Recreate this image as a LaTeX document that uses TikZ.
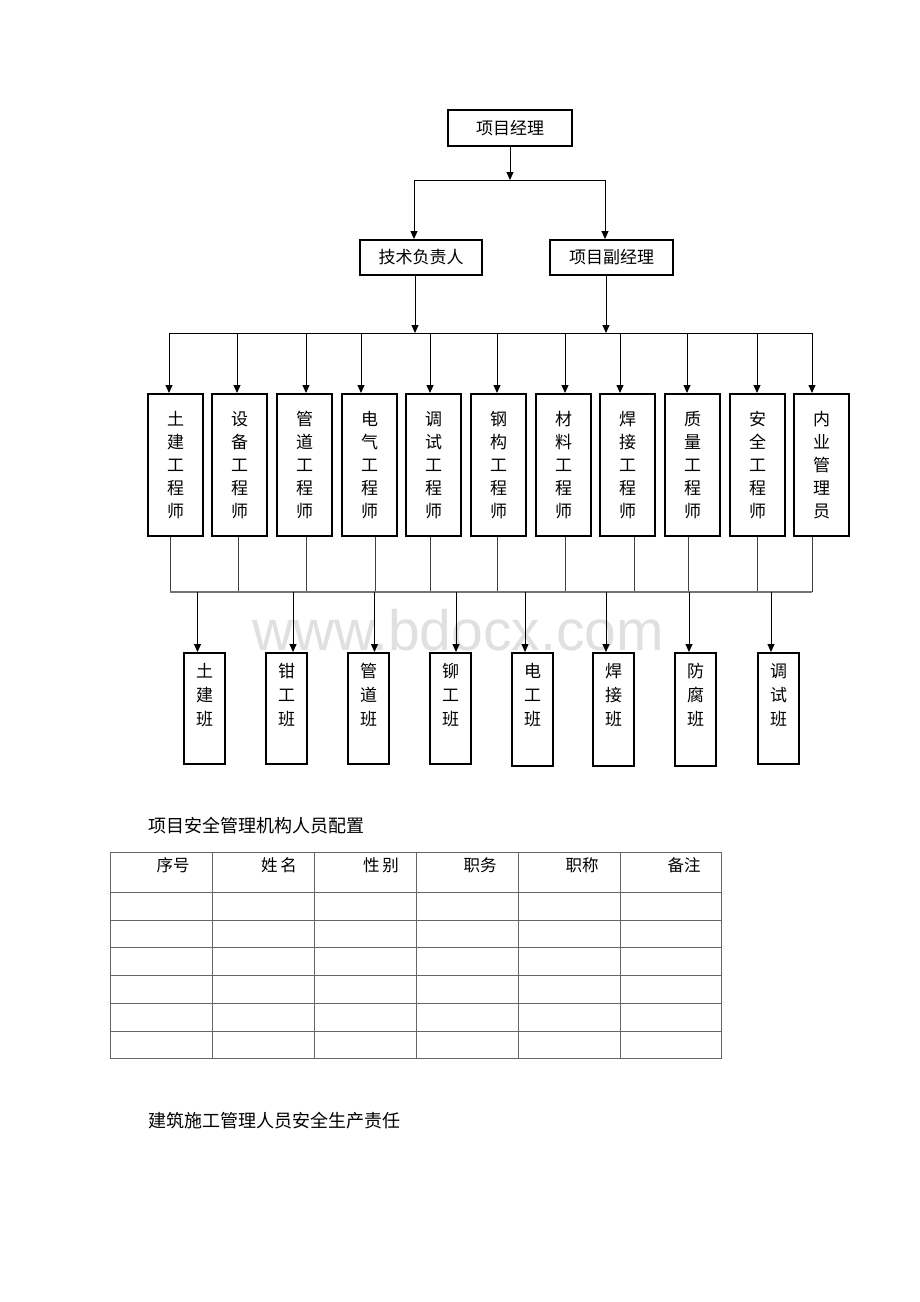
\documentclass[tikz,border=0pt]{standalone}
\usepackage{fontspec}
\setmainfont{Liberation Serif}
\newfontfamily\cjk{Noto Sans CJK SC}
\newfontfamily\wmfont{Liberation Sans}
\usetikzlibrary{arrows.meta}
\tikzset{
  arr/.style={-{Triangle[length=8pt,width=7pt]}, line width=1pt, black},
  ln/.style={line width=1pt, black},
  dropln/.style={line width=0.8pt, black!75},
  topbox/.style={draw, line width=2pt, inner sep=0pt, font=\cjk\fontsize{17}{20}\selectfont},
  engbox/.style={draw, line width=2.4pt, inner sep=0pt, minimum width=55pt, minimum height=142pt, anchor=north west, align=center, font=\cjk\fontsize{17}{23}\selectfont},
  teambox/.style={draw, line width=2.4pt, inner sep=0pt, minimum width=41pt, minimum height=111pt, anchor=north west},
  teamtxt/.style={inner sep=0pt, align=center, font=\cjk\fontsize{17}{24}\selectfont},
  tbl/.style={line width=0.8pt, black!60},
  hdr/.style={inner sep=0pt, font=\cjk\fontsize{16.5}{18}\selectfont},
  ttl/.style={inner sep=0pt, anchor=west, font=\cjk\fontsize{18}{20}\selectfont}
}
\begin{document}
\begin{tikzpicture}[x=1pt,y=-1pt]
\useasboundingbox[fill=white] (0,0) rectangle (920,1302);
% watermark
\node[text=black!12, inner sep=0pt, anchor=base, text height=38pt, text depth=0pt, font=\wmfont\fontsize{57}{57}\selectfont] (wm) at (458,650) {www.bdocx.com};
% top level
\node[topbox, minimum width=124pt, minimum height=36pt] (pm) at (510,128) {项目经理};
\node[topbox, minimum width=122pt, minimum height=35pt] (tech) at (421,257.5) {技术负责人};
\node[topbox, minimum width=123pt, minimum height=35pt] (dpm) at (611.5,257.5) {项目副经理};
\coordinate (j0) at (510,180);
\coordinate (jl) at (414,180);
\coordinate (jr) at (605,180);
\draw[arr] (pm.south) -- (j0);
\draw[ln] (jl) -- (jr);
\draw[arr] (jl) -- (jl |- tech.north);
\draw[arr] (jr) -- (jr |- dpm.north);
% bar 2
\coordinate (b2l) at (169,333);
\coordinate (b2r) at (812,333);
\coordinate (t2) at (415,333);
\coordinate (d2) at (606,333);
\draw[ln] (b2l) -- (b2r);
\draw[arr] (t2 |- tech.south) -- (t2);
\draw[arr] (d2 |- dpm.south) -- (d2);
% engineers
\foreach \l/\a/\d/\t [count=\i] in {
  147/169/170/{土\\建\\工\\程\\师},
  211/237/238/{设\\备\\工\\程\\师},
  276/306/306/{管\\道\\工\\程\\师},
  341/361/375/{电\\气\\工\\程\\师},
  405/430/430/{调\\试\\工\\程\\师},
  470/497/497/{钢\\构\\工\\程\\师},
  535/565/565/{材\\料\\工\\程\\师},
  599/620/634/{焊\\接\\工\\程\\师},
  664/687/688/{质\\量\\工\\程\\师},
  729/757/757/{安\\全\\工\\程\\师},
  793/812/812/{内\\业\\管\\理\\员}}{
  \node[engbox] (e\i) at (\l,393) {\t};
  \coordinate (ea\i) at (\a,333);
  \draw[arr] (ea\i) -- (ea\i |- e\i.north);
  \coordinate (ed\i) at (\d,592);
  \draw[dropln] (ed\i |- e\i.south) -- (ed\i);
}
% bar 3
\coordinate (b3l) at (170,592);
\coordinate (b3r) at (812,592);
\draw[line width=2pt, black!55] (b3l) -- (b3r);
% teams
\foreach \l/\a/\h/\t [count=\i] in {
  183/197.5/111/{土\\建\\班},
  265/293/111/{钳\\工\\班},
  347/374.5/111/{管\\道\\班},
  429/456/111/{铆\\工\\班},
  511/525/113/{电\\工\\班},
  592/606/113/{焊\\接\\班},
  674/689/113/{防\\腐\\班},
  757/771/111/{调\\试\\班}}{
  \node[teambox, minimum height=\h pt] (t\i) at (\l,652) {};
  \path (t\i.north) ++(0,43) node[teamtxt] (tt\i) {\t};
  \coordinate (ta\i) at (\a,592);
  \draw[arr] (ta\i) -- (ta\i |- t\i.north);
}
% table
\node[ttl] (title1) at (148,826) {项目安全管理机构人员配置};
\draw[tbl] (110,852) rectangle (721,1058);
\foreach \x in {212,314,416,518,620} \draw[tbl] (\x,852) -- (\x,1058);
\foreach \y in {892,920,947.5,975.5,1003,1031} \draw[tbl] (110,\y) -- (721,\y);
\node[hdr] (h1) at (173,865) {序号};
\node[hdr] (h2) at (279,865) {姓\,名};
\node[hdr] (h3) at (381,865) {性\,别};
\node[hdr] (h4) at (480,865) {职务};
\node[hdr] (h5) at (582,865) {职称};
\node[hdr] (h6) at (684,865) {备注};
\node[ttl] (title2) at (148,1121) {建筑施工管理人员安全生产责任};
\end{tikzpicture}
\end{document}
